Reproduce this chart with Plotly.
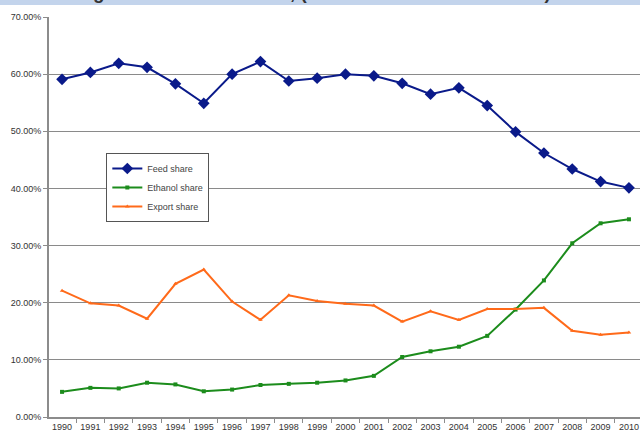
import plotly.graph_objects as go

years = [str(y) for y in range(1990, 2011)]
feed_share = [59.1, 60.3, 61.9, 61.2, 58.3, 54.9, 60.0, 62.2, 58.8, 59.3, 60.0,
              59.7, 58.4, 56.5, 57.6, 54.5, 49.9, 46.2, 43.4, 41.2, 40.1]
ethanol_share = [4.4, 5.1, 5.0, 6.0, 5.7, 4.5, 4.8, 5.6, 5.8, 6.0, 6.4,
                 7.2, 10.5, 11.5, 12.3, 14.2, 18.8, 23.9, 30.4, 33.9, 34.6]
export_share = [22.1, 19.9, 19.5, 17.2, 23.3, 25.8, 20.2, 17.0, 21.3, 20.3, 19.8,
                19.5, 16.7, 18.5, 17.0, 18.9, 18.9, 19.1, 15.1, 14.4, 14.8]
y_ticks = [0, 10, 20, 30, 40, 50, 60, 70]
y_tick_labels = ["0.00%", "10.00%", "20.00%", "30.00%", "40.00%", "50.00%", "60.00%", "70.00%"]
title_text = "Corn Usage/Share for Year in %, (Source / Thomson Reuters)"

xs = list(range(len(years)))

fig = go.Figure()
fig.add_trace(go.Scatter(x=xs, y=feed_share, name="Feed share", mode="lines+markers",
                         line=dict(color="#0a1a8a", width=2),
                         marker=dict(symbol="diamond", size=9, color="#0a1a8a")))
fig.add_trace(go.Scatter(x=xs, y=ethanol_share, name="Ethanol share", mode="lines+markers",
                         line=dict(color="#1c8c1c", width=2),
                         marker=dict(symbol="square", size=4, color="#1c8c1c")))
fig.add_trace(go.Scatter(x=xs, y=export_share, name="Export share", mode="lines+markers",
                         line=dict(color="#ff6a1a", width=2),
                         marker=dict(symbol="triangle-up", size=4, color="#ff6a1a")))

fig.update_layout(
    width=640, height=439,
    margin=dict(l=49, r=0, t=17, b=22),
    paper_bgcolor="white", plot_bgcolor="white",
    font=dict(family="Liberation Sans, Arial", size=9, color="#333333"),
    showlegend=True,
    legend=dict(x=0.097, y=0.66, xanchor="left", yanchor="top",
                bgcolor="white", bordercolor="#555555", borderwidth=1,
                font=dict(size=9, color="#444444"), tracegroupgap=0,
                itemwidth=30),
    xaxis=dict(range=[-0.46, 20.39], tickmode="array", tickvals=xs, ticktext=years,
               automargin=False,
               showgrid=False, zeroline=False, showline=True, linecolor="#8c8c8c",
               linewidth=2, ticks="", tickfont=dict(size=9, color="#333333"),
               minor=dict(tickmode="array", tickvals=[i + 0.5 for i in xs],
                          ticks="outside", ticklen=4, tickcolor="#8c8c8c", tickwidth=1)),
    yaxis=dict(range=[0, 70], tickmode="array", tickvals=y_ticks, ticktext=y_tick_labels,
               automargin=False,
               showgrid=True, gridcolor="#8a8a8a", gridwidth=1, zeroline=False,
               showline=True, linecolor="#8c8c8c", linewidth=2,
               ticks="outside", ticklen=4, tickcolor="#8c8c8c",
               tickfont=dict(size=9, color="#333333")),
)

fig.add_shape(type="rect", xref="paper", yref="paper", x0=-0.1, x1=1.0,
              y0=(417 - 5) / 400, y1=1.1, fillcolor="#c3d4ec", line=dict(width=0),
              layer="below")
fig.add_annotation(text="<b>" + title_text + "</b>", xref="paper", yref="paper",
                   x=-41 / 591, y=(417 - 5) / 400, xanchor="left", yanchor="bottom",
                   showarrow=False, font=dict(size=18.7, color="#333333"))

fig.write_html("out.html", config={"displayModeBar": False},
               post_script="document.body.style.margin='0';document.body.style.overflow='hidden';")
